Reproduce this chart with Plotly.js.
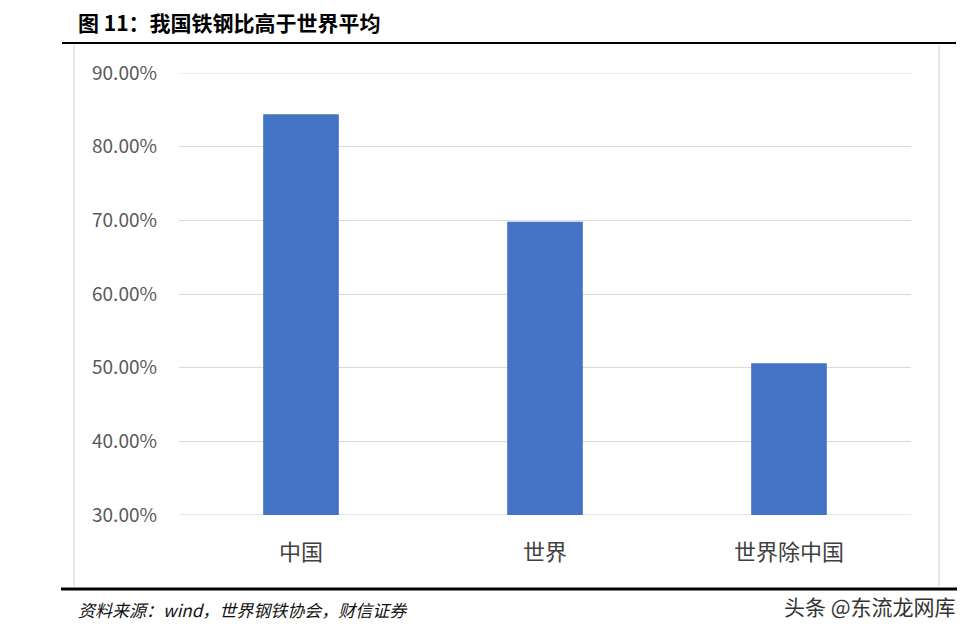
<!DOCTYPE html>
<html>
<head>
<meta charset="utf-8">
<script src="https://cdn.plot.ly/plotly-3.0.1.min.js"></script>
<style>html,body{margin:0;padding:0;background:#fff;}#chart{width:978px;height:634px;}</style>
</head>
<body>
<div id="chart"></div>
<script>
var categories = ["中国", "世界", "世界除中国"];
var ratioValues = [0.844, 0.698, 0.506];
var tickValues = [0.3, 0.4, 0.5, 0.6, 0.7, 0.8, 0.9];
var titleText = "图 11：我国铁钢比高于世界平均";
var sourceText = "资料来源：wind，世界钢铁协会，财信证券";
var watermarkText = "头条 @东流龙网库";

var W = 978, H = 634;
function px(x){return x/W;}
function py(y){return 1 - y/H;}

var trace = {
  type: "bar",
  x: categories,
  y: ratioValues,
  marker: {color: "#4472C4"},
  hoverinfo: "x+y"
};

var layout = {
  width: W, height: H,
  margin: {l:0, r:0, t:0, b:0},
  paper_bgcolor: "#ffffff",
  plot_bgcolor: "#ffffff",
  showlegend: false,
  bargap: 0.69,
  font: {family: "Noto Sans CJK SC, sans-serif"},
  xaxis: {
    domain: [px(179), px(911)],
    showgrid: false, zeroline: false, showline: false,
    ticks: "",
    tickfont: {size: 22, color: "#404040", family: "Noto Sans CJK SC, sans-serif"},
    ticklabelstandoff: 22
  },
  yaxis: {
    domain: [py(515), py(73)],
    range: [0.3, 0.9],
    tickvals: tickValues,
    tickformat: ".2%",
    showgrid: true, gridcolor: "#d9d9d9", gridwidth: 1,
    zeroline: false, showline: false, ticks: "",
    tickfont: {size: 19, color: "#595959", family: "Noto Sans CJK SC, sans-serif"},
    ticklabelstandoff: 21
  },
  shapes: [
    {type:"line", xref:"paper", yref:"y", x0:px(179), x1:px(911), y0:0.9, y1:0.9, layer:"below", line:{color:"#d9d9d9", width:1}},
    {type:"line", xref:"paper", yref:"y", x0:px(179), x1:px(911), y0:0.3, y1:0.3, layer:"below", line:{color:"#d0d0d0", width:1}},
    {type:"line", xref:"paper", yref:"paper", x0:px(62), x1:px(956), y0:py(43), y1:py(43), line:{color:"#000", width:2}},
    {type:"line", xref:"paper", yref:"paper", x0:px(61), x1:px(957), y0:py(589), y1:py(589), line:{color:"#000", width:3}},
    {type:"line", xref:"paper", yref:"paper", x0:px(74), x1:px(74), y0:py(45), y1:py(586), line:{color:"#d0d0d0", width:1}},
    {type:"line", xref:"paper", yref:"paper", x0:px(939), x1:px(939), y0:py(45), y1:py(586), line:{color:"#d0d0d0", width:1}}
  ],
  annotations: [
    {xref:"paper", yref:"paper", x:px(76), y:py(22), xanchor:"left", yanchor:"middle", showarrow:false,
     text:"<b>"+titleText+"</b>", font:{size:21, color:"#000", family:"Noto Sans CJK SC, sans-serif"}},
    {xref:"paper", yref:"paper", x:px(76), y:py(609), xanchor:"left", yanchor:"middle", showarrow:false,
     text:"<i>"+sourceText+"</i>", font:{size:17, color:"#111", family:"Noto Sans CJK SC, sans-serif"}},
    {xref:"paper", yref:"paper", x:px(958), y:py(606), xanchor:"right", yanchor:"middle", showarrow:false,
     text:watermarkText, font:{size:21, color:"#333", family:"Noto Sans CJK SC, sans-serif"}}
  ]
};

Plotly.newPlot("chart", [trace], layout, {displayModeBar:false, staticPlot:true});
</script>
</body>
</html>
